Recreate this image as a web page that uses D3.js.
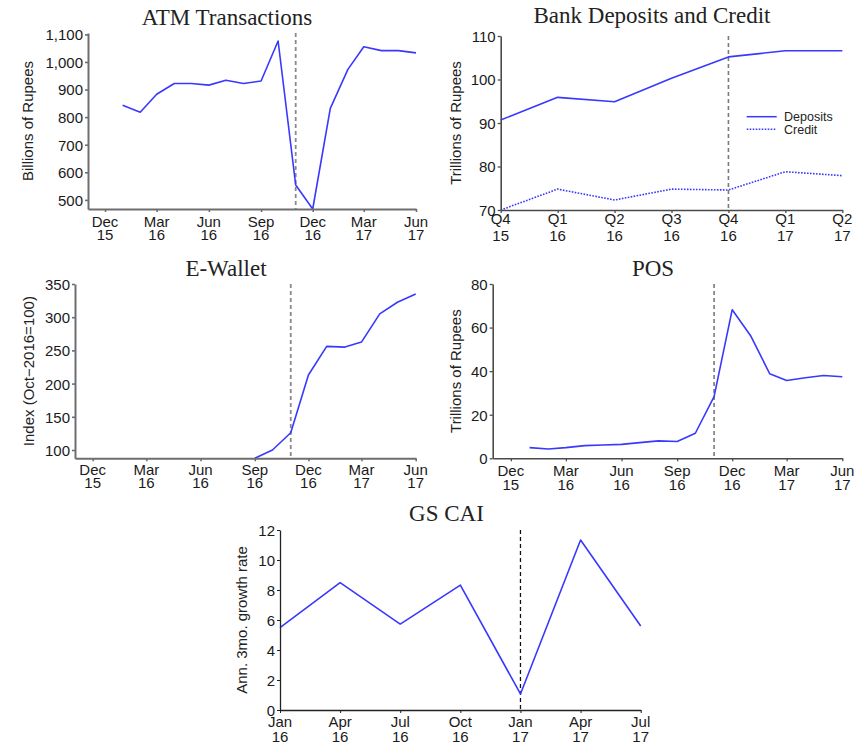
<!DOCTYPE html>
<html>
<head>
<meta charset="utf-8">
<script src="https://cdn.jsdelivr.net/npm/d3@7"></script>
<style>
  body { margin: 0; background: #fff; }
  svg { display: block; }
</style>
</head>
<body>
<svg id="chart" width="865" height="742"></svg>
<script>
// ---- Data ----------------------------------------------------------------
// ATM transactions, billions of rupees (monthly)
const atmMonths = ["Jan 16","Feb 16","Mar 16","Apr 16","May 16","Jun 16","Jul 16","Aug 16","Sep 16",
                   "Oct 16","Nov 16","Dec 16","Jan 17","Feb 17","Mar 17","Apr 17","May 17","Jun 17"];
const atmValues = [843, 818, 883, 922, 922, 916, 934, 922, 931, 1076, 554, 467, 832, 973, 1055, 1041, 1041, 1033];

// E-wallet index, Oct-2016 = 100 (monthly)
const walletMonths = ["Sep 16","Oct 16","Nov 16","Dec 16","Jan 17","Feb 17","Mar 17","Apr 17","May 17","Jun 17"];
const walletValues = [87.5, 100, 126, 213, 256, 255, 262.5, 305, 322.5, 335];

// POS transactions, trillions of rupees (monthly)
const posMonths = atmMonths;
const posValues = [4.9, 4.3, 4.9, 5.8, 6.1, 6.4, 7.2, 8.0, 7.7, 11.5, 28.3, 68.2, 56.0, 38.8, 35.7, 37.0, 38.0, 37.4];

// Bank deposits and credit, trillions of rupees (quarterly)
const bankQuarters = ["Q4 15","Q1 16","Q2 16","Q3 16","Q4 16","Q1 17","Q2 17"];
const depositValues = [90.7, 95.9, 94.9, 100.3, 105.2, 106.6, 106.6];
const creditValues  = [70.0, 74.8, 72.3, 74.8, 74.6, 78.8, 77.9];

// GS current activity indicator, annualised 3-month growth rate (quarterly)
const caiQuarters = ["Jan 16","Apr 16","Jul 16","Oct 16","Jan 17","Apr 17","Jul 17"];
const caiValues = [5.49, 8.49, 5.73, 8.33, 1.07, 11.33, 5.6];

// Axis ticks
const monthTickLabels = ["Dec 15","Mar 16","Jun 16","Sep 16","Dec 16","Mar 17","Jun 17"];
const monthRange = ["Nov 15", "Jun 17"];
const atmTicks = [500, 600, 700, 800, 900, 1000, 1100];
const walletTicks = [100, 150, 200, 250, 300, 350];
const posTicks = [0, 20, 40, 60, 80];
const bankTicks = [70, 80, 90, 100, 110];
const caiTicks = [0, 2, 4, 6, 8, 10, 12];

// Demonetisation markers
const monthEvent = "Nov 16";
const bankEvent = "Q4 16";
const caiEvent = "Jan 17";

// ---- Drawing -------------------------------------------------------------
const parseMonth = d3.timeParse("%b %y");
const svg = d3.select("#chart");
const LINE_BLUE = "#3838ff";
const SANS = "'Liberation Sans', Arial, Helvetica, sans-serif";
const SERIF = "'Liberation Serif', 'Times New Roman', serif";

function drawPanel(p) {
  const g = svg.append("g");
  const x = p.x;
  const y = d3.scaleLinear().domain(p.yDomain).range([p.yBottom, p.yTop]);

  // title
  g.append("text")
    .attr("x", p.titleX).attr("y", p.titleY)
    .attr("text-anchor", "middle")
    .attr("font-family", SERIF).attr("font-size", 23)
    .attr("fill", "#222")
    .text(p.title);

  // y-axis title
  g.append("text")
    .attr("transform", `translate(${p.yTitleX},${(p.yTop + p.yBottom) / 2}) rotate(-90)`)
    .attr("text-anchor", "middle")
    .attr("dominant-baseline", "central")
    .attr("font-family", SANS).attr("font-size", 15)
    .attr("fill", "#222")
    .text(p.yTitle);

  // event marker
  const ex = x(p.eventAt);
  g.append("line")
    .attr("x1", ex).attr("x2", ex)
    .attr("y1", p.yTop).attr("y2", p.yBottom)
    .attr("stroke", p.eventColor).attr("stroke-width", p.eventWidth)
    .attr("stroke-dasharray", "4,3");

  // series
  p.series.forEach(s => {
    const line = d3.line()
      .x((d, i) => x(s.at[i]))
      .y(d => y(d));
    g.append("path")
      .datum(s.values)
      .attr("d", line)
      .attr("fill", "none")
      .attr("stroke", LINE_BLUE)
      .attr("stroke-width", 1.6)
      .attr("stroke-linejoin", "round")
      .attr("stroke-dasharray", s.dash || null);
  });

  // y axis
  const yAxis = g.append("g")
    .attr("transform", `translate(${p.x0},0)`)
    .call(d3.axisLeft(y).tickValues(p.yTicks).tickSize(3).tickSizeOuter(0)
      .tickPadding(2).tickFormat(p.yFormat || d3.format("d")));
  // x axis
  const xAxis = g.append("g")
    .attr("transform", `translate(0,${p.yBottom})`)
    .call(d3.axisBottom(x).tickValues(p.xTickAt).tickSize(3).tickSizeOuter(0).tickFormat(""));

  [yAxis, xAxis].forEach(a => {
    a.select(".domain").attr("stroke", p.axisColor).attr("stroke-width", p.axisWidth);
    a.selectAll(".tick line").attr("stroke", p.axisColor).attr("stroke-width", p.axisWidth * 0.8);
  });
  yAxis.selectAll(".tick text")
    .attr("font-family", SANS).attr("font-size", 15).attr("fill", "#1a1a1a")
    .attr("dy", "0.36em");

  // two-line x tick labels
  p.xTickLabels.forEach((lab, i) => {
    const parts = lab.split(" ");
    const t = g.append("text")
      .attr("x", x(p.xTickAt[i]))
      .attr("text-anchor", "middle")
      .attr("font-family", SANS).attr("font-size", 15).attr("fill", "#1a1a1a");
    t.append("tspan").attr("x", x(p.xTickAt[i])).attr("y", p.yBottom + p.labelDy1).text(parts[0]);
    t.append("tspan").attr("x", x(p.xTickAt[i])).attr("y", p.yBottom + p.labelDy2).text(parts[1]);
  });

  return { g, x, y };
}

const monthDomain = monthRange.map(parseMonth);
const monthTickDates = monthTickLabels.map(parseMonth);

// ATM Transactions
drawPanel({
  title: "ATM Transactions", titleX: 227, titleY: 25,
  x0: 88, yTop: 33, yBottom: 209,
  x: d3.scaleTime().domain(monthDomain).range([88, 416]),
  yDomain: [467, 1105], yTicks: atmTicks, yFormat: d3.format(","),
  yTitle: "Billions of Rupees", yTitleX: 27,
  xTickAt: monthTickDates, xTickLabels: monthTickLabels, labelDy1: 18, labelDy2: 31,
  axisColor: "#6e6e6e", axisWidth: 2,
  eventAt: parseMonth(monthEvent), eventColor: "#8a8a8a", eventWidth: 1.8,
  series: [{ at: atmMonths.map(parseMonth), values: atmValues }]
});

// Bank Deposits and Credit
const bank = drawPanel({
  title: "Bank Deposits and Credit", titleX: 652, titleY: 23,
  x0: 500.7, yTop: 36, yBottom: 210,
  x: d3.scalePoint().domain(bankQuarters).range([500.7, 842.3]),
  yDomain: [70, 110], yTicks: bankTicks,
  yTitle: "Trillions of Rupees", yTitleX: 455,
  xTickAt: bankQuarters, xTickLabels: bankQuarters, labelDy1: 14, labelDy2: 31,
  axisColor: "#4a4a4a", axisWidth: 1.6,
  eventAt: bankEvent, eventColor: "#7a7a7a", eventWidth: 1.6,
  series: [
    { at: bankQuarters, values: depositValues },
    { at: bankQuarters, values: creditValues, dash: "1.6,1.4" }
  ]
});

// legend for the bank panel
const legendItems = [
  { label: "Deposits", dash: null, y: 116.7 },
  { label: "Credit", dash: "1.6,1.4", y: 129.3 }
];
const legend = bank.g.append("g");
legendItems.forEach(it => {
  legend.append("line")
    .attr("x1", 746.7).attr("x2", 776.7).attr("y1", it.y).attr("y2", it.y)
    .attr("stroke", LINE_BLUE).attr("stroke-width", 1.5)
    .attr("stroke-dasharray", it.dash);
  legend.append("text")
    .attr("x", 784).attr("y", it.y + 4.5)
    .attr("font-family", SANS).attr("font-size", 12.5).attr("fill", "#222")
    .text(it.label);
});

// E-Wallet
drawPanel({
  title: "E-Wallet", titleX: 226, titleY: 275.5,
  x0: 75, yTop: 284, yBottom: 458.3,
  x: d3.scaleTime().domain(monthDomain).range([75, 415.7]),
  yDomain: [87.5, 350], yTicks: walletTicks,
  yTitle: "Index (Oct\u22122016=100)", yTitleX: 28.5,
  xTickAt: monthTickDates, xTickLabels: monthTickLabels, labelDy1: 17, labelDy2: 30,
  axisColor: "#6e6e6e", axisWidth: 2,
  eventAt: parseMonth(monthEvent), eventColor: "#8a8a8a", eventWidth: 1.8,
  series: [{ at: walletMonths.map(parseMonth), values: walletValues }]
});

// POS
drawPanel({
  title: "POS", titleX: 653, titleY: 275.5,
  x0: 492.7, yTop: 284, yBottom: 458.3,
  x: d3.scaleTime().domain(monthDomain).range([492.7, 842.3]),
  yDomain: [0, 80], yTicks: posTicks,
  yTitle: "Trillions of Rupees", yTitleX: 455,
  xTickAt: monthTickDates, xTickLabels: monthTickLabels, labelDy1: 18, labelDy2: 31.5,
  axisColor: "#4a4a4a", axisWidth: 1.6,
  eventAt: parseMonth(monthEvent), eventColor: "#7a7a7a", eventWidth: 1.6,
  series: [{ at: posMonths.map(parseMonth), values: posValues }]
});

// GS CAI
drawPanel({
  title: "GS CAI", titleX: 446.5, titleY: 521,
  x0: 280, yTop: 530, yBottom: 710,
  x: d3.scalePoint().domain(caiQuarters).range([280, 640.7]),
  yDomain: [0, 12], yTicks: caiTicks,
  yTitle: "Ann. 3mo. growth rate", yTitleX: 241.5,
  xTickAt: caiQuarters, xTickLabels: caiQuarters, labelDy1: 16.5, labelDy2: 31.5,
  axisColor: "#222", axisWidth: 1.3,
  eventAt: caiEvent, eventColor: "#111", eventWidth: 1.3,
  series: [{ at: caiQuarters, values: caiValues }]
});
</script>
</body>
</html>
